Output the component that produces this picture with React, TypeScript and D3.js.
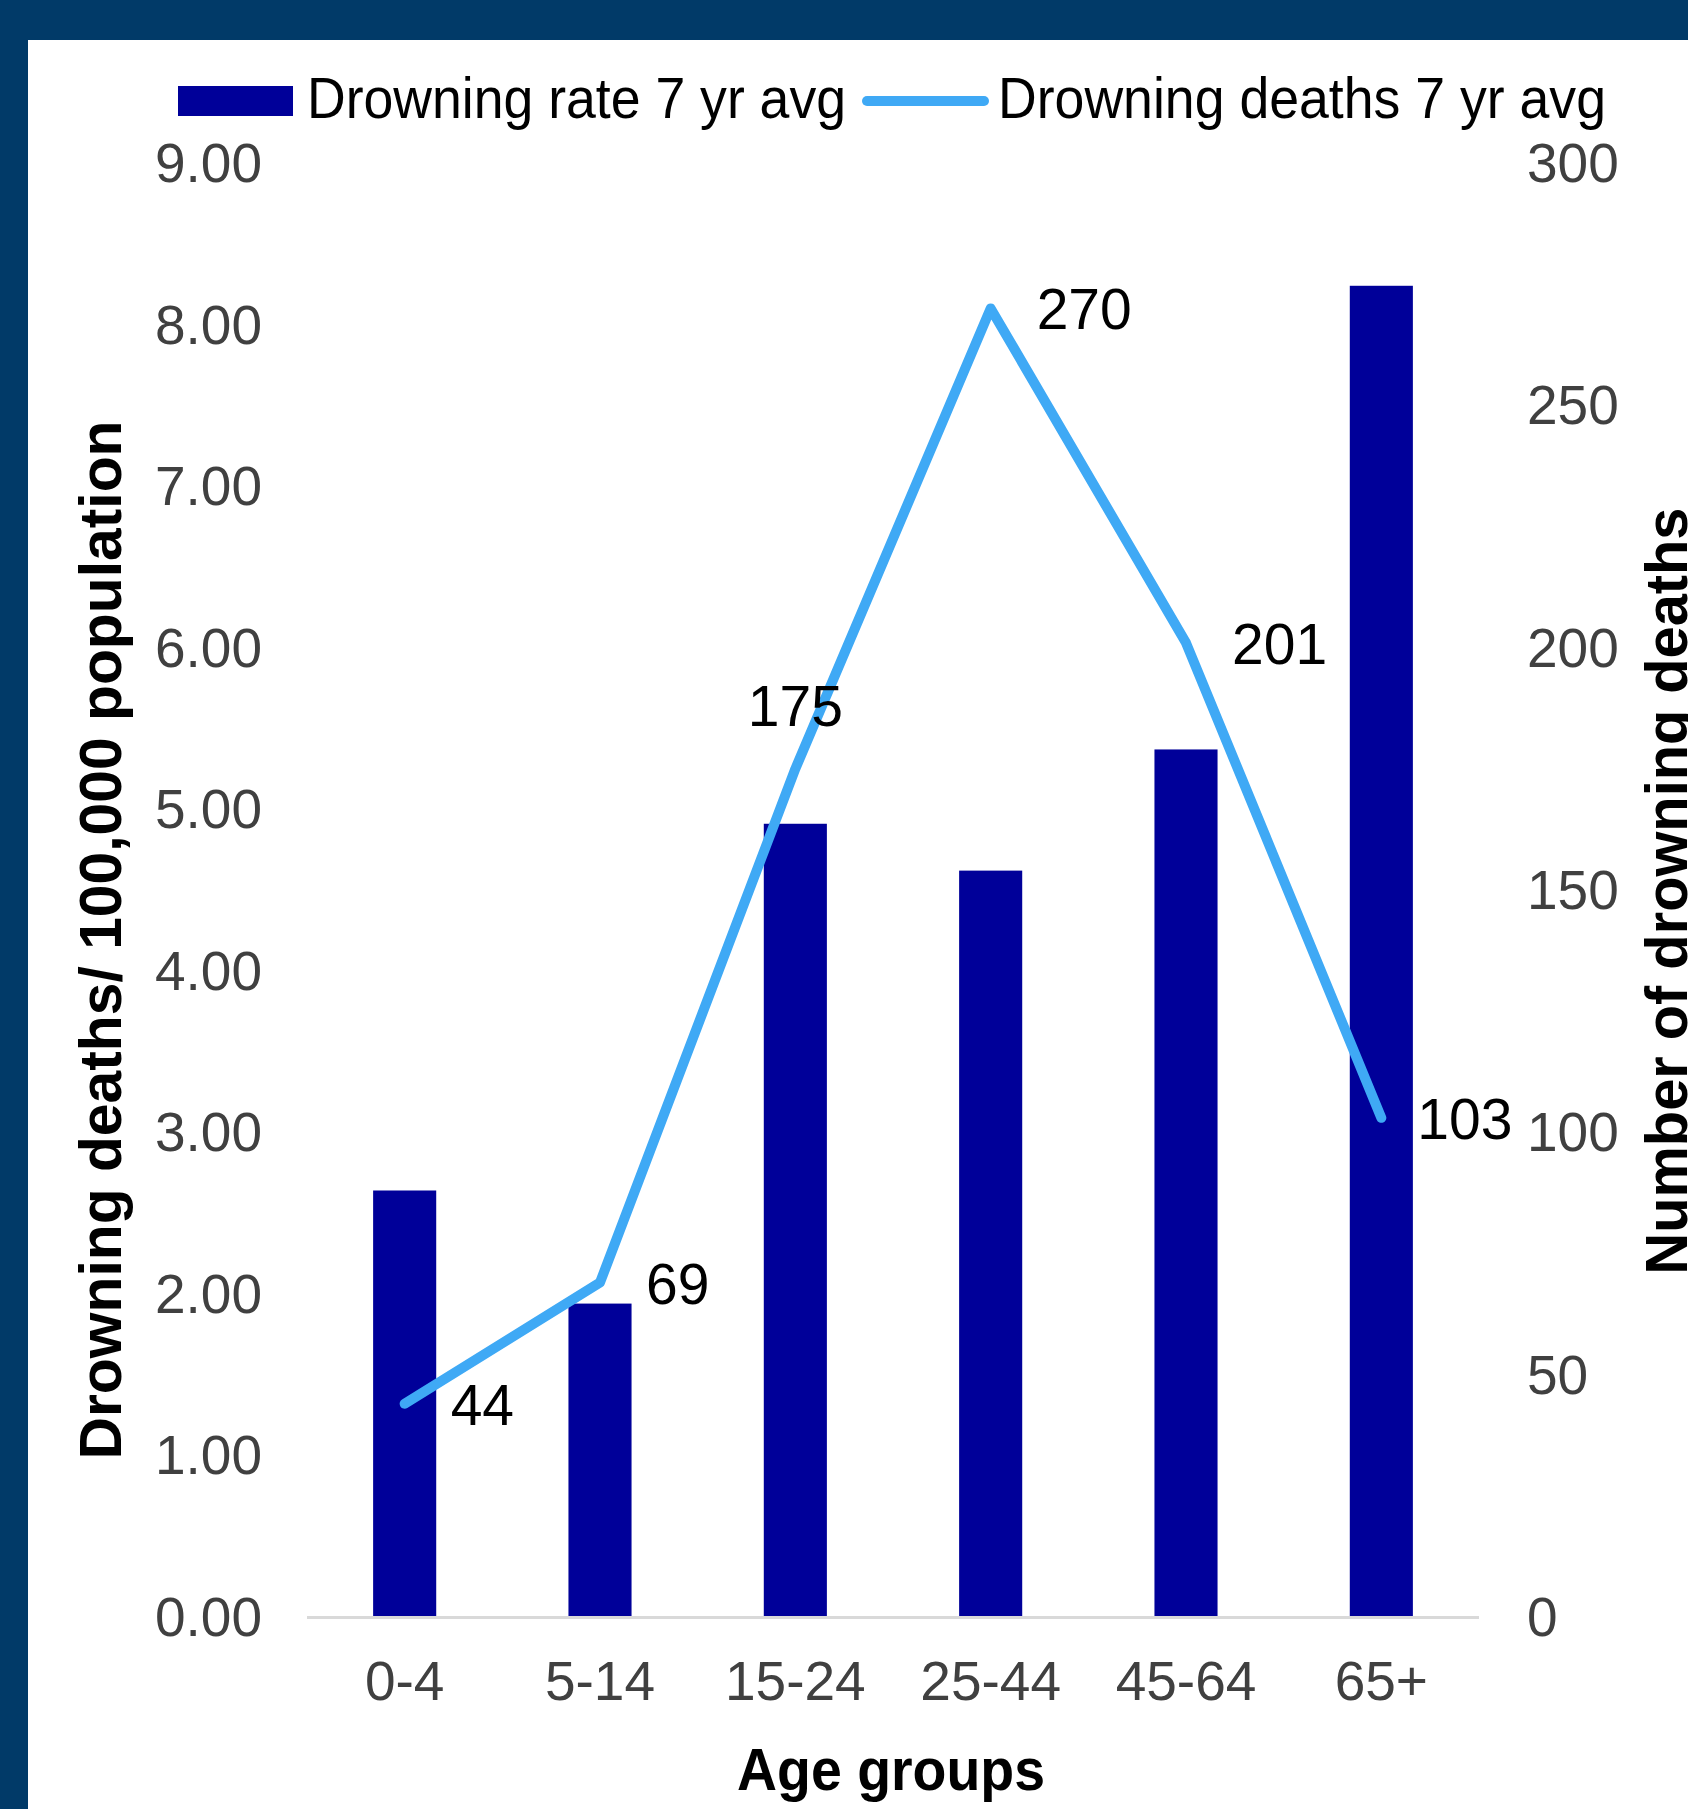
import React from "react";
import * as d3 from "d3";

const categories = ["0-4", "5-14", "15-24", "25-44", "45-64", "65+"];
const drowningRate = [2.64, 1.94, 4.91, 4.62, 5.37, 8.24];
const drowningDeaths = [44, 69, 175, 270, 201, 103];
const leftTicks = [0, 1, 2, 3, 4, 5, 6, 7, 8, 9];
const rightTicks = [0, 50, 100, 150, 200, 250, 300];
const labelPlacement = ["right", "right", "above", "right", "right", "right"];
const labelDx = [46, 46, 0, 46, 46, 36];

const W = 1688;
const H = 1809;
const FONT = "'Liberation Sans', Arial, sans-serif";
const NAVY = "#013A68";
const BAR = "#000099";
const LINE = "#3FA9F5";
const TICK = "#404040";

export default function App() {
  const x = d3
    .scaleBand<string>()
    .domain(categories)
    .range([307, 1479])
    .paddingInner(0.677)
    .paddingOuter(0.3385);
  const yL = d3.scaleLinear().domain([0, 9]).range([1617, 163]);
  const yR = d3.scaleLinear().domain([0, 300]).range([1617, 163]);
  const cx = (c: string) => (x(c) as number) + x.bandwidth() / 2;

  const linePath = d3
    .line<number>()
    .x((_, i) => cx(categories[i]))
    .y((d) => yR(d))(drowningDeaths) as string;

  return (
    <svg
      width={W}
      height={H}
      style={{ position: "absolute", left: 0, top: 0, display: "block" }}
      fontFamily={FONT}
    >
      <rect x={0} y={0} width={W} height={H} fill={NAVY} />
      <rect x={28} y={40} width={W - 28} height={H - 40} fill="#ffffff" />

      {/* Legend */}
      <rect x={178} y={86} width={115} height={30} fill={BAR} />
      <text x={307} y={118} fontSize={57} fill="#000" textLength={539} lengthAdjust="spacingAndGlyphs">
        Drowning rate 7 yr avg
      </text>
      <line x1={867} x2={984} y1={101} y2={101} stroke={LINE} strokeWidth={10} strokeLinecap="round" />
      <text x={998} y={118} fontSize={57} fill="#000" textLength={608} lengthAdjust="spacingAndGlyphs">
        Drowning deaths 7 yr avg
      </text>

      {/* Left ticks */}
      {leftTicks.map((t) => (
        <text key={"l" + t} x={262} y={yL(t) + 19} fontSize={55} fill={TICK} textAnchor="end">
          {t.toFixed(2)}
        </text>
      ))}
      {/* Right ticks */}
      {rightTicks.map((t) => (
        <text key={"r" + t} x={1527} y={yR(t) + 19} fontSize={55} fill={TICK} textAnchor="start">
          {t}
        </text>
      ))}

      {/* Bars */}
      {categories.map((c, i) => (
        <rect
          key={c}
          x={x(c)}
          y={yL(drowningRate[i])}
          width={x.bandwidth()}
          height={yL(0) - yL(drowningRate[i])}
          fill={BAR}
        />
      ))}

      {/* Baseline */}
      <line x1={307} x2={1479} y1={yL(0) + 0.5} y2={yL(0) + 0.5} stroke="#d9d9d9" strokeWidth={3} />

      {/* Line */}
      <path d={linePath} fill="none" stroke={LINE} strokeWidth={10} strokeLinejoin="round" strokeLinecap="round" />

      {/* Data labels */}
      {drowningDeaths.map((v, i) => {
        const px = cx(categories[i]);
        const py = yR(v);
        if (labelPlacement[i] === "above") {
          return (
            <text key={"d" + i} x={px} y={py - 43} fontSize={57} fill="#000" textAnchor="middle">
              {v}
            </text>
          );
        }
        return (
          <text key={"d" + i} x={px + labelDx[i]} y={py + 21} fontSize={57} fill="#000" textAnchor="start">
            {v}
          </text>
        );
      })}

      {/* X labels */}
      {categories.map((c) => (
        <text key={"x" + c} x={cx(c)} y={1700} fontSize={55} fill={TICK} textAnchor="middle">
          {c}
        </text>
      ))}

      {/* Axis titles */}
      <text x={891} y={1790} fontSize={59} fontWeight="bold" fill="#000" textAnchor="middle" textLength={308} lengthAdjust="spacingAndGlyphs">
        Age groups
      </text>
      <text
        transform="translate(121,940) rotate(-90)"
        fontSize={59}
        fontWeight="bold"
        fill="#000"
        textAnchor="middle"
        textLength={1039}
        lengthAdjust="spacingAndGlyphs"
      >
        Drowning deaths/ 100,000 population
      </text>
      <text
        transform="translate(1687,891) rotate(-90)"
        fontSize={59}
        fontWeight="bold"
        fill="#000"
        textAnchor="middle"
        textLength={767}
        lengthAdjust="spacingAndGlyphs"
      >
        Number of drowning deaths
      </text>
    </svg>
  );
}
